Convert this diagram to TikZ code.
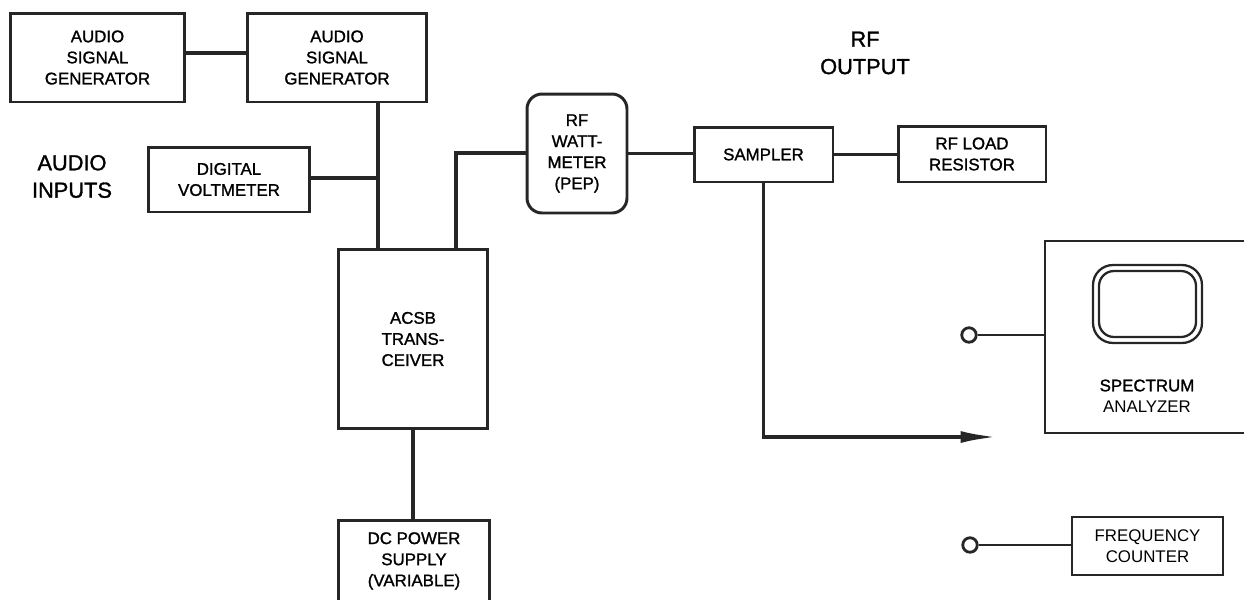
\documentclass[tikz,border=0pt]{standalone}
\usepackage{fontspec}
\setmainfont{Liberation Sans}[BoldFont={Liberation Sans},BoldFeatures={FakeBold=1.3}]
\usetikzlibrary{arrows.meta}
\begin{document}
\begin{tikzpicture}[x=0.02cm,y=-0.02cm,
  box/.style={draw=black!85, line width=1.7pt, inner sep=0pt, align=center,
    font=\fontsize{9.6}{12}\selectfont\bfseries},
  thinbox/.style={draw=black!85, line width=1.3pt, inner sep=0pt, align=center},
  lbl/.style={inner sep=0pt, align=center, font=\fontsize{12.4}{15.6}\selectfont\bfseries},
  conn/.style={draw=black!85, line width=2.2pt},
  thinconn/.style={draw=black!85, line width=1.1pt},
  port/.style={circle, draw=black!85, line width=1.6pt, minimum size=0.29cm, inner sep=0pt}]
\useasboundingbox (0,0) rectangle (1244,599);

% boxes
\node[box, minimum width=3.5cm, minimum height=1.78cm] (asg1) at (97.5,57.5) {AUDIO\\SIGNAL\\GENERATOR};
\node[box, minimum width=3.6cm, minimum height=1.78cm] (asg2) at (337,57.5) {AUDIO\\SIGNAL\\GENERATOR};
\node[box, minimum width=3.24cm, minimum height=1.3cm] (dvm) at (229,179.5) {DIGITAL\\VOLTMETER};
\node[box, minimum width=3cm, minimum height=3.6cm] (trx) at (413,339) {ACSB\\TRANS-\\CEIVER};
\node[box, minimum width=3.04cm, minimum height=1.64cm] (dc) at (414,561) {DC POWER\\SUPPLY\\(VARIABLE)};
\node[box, rounded corners=0.3cm, minimum width=2cm, minimum height=2.38cm] (watt) at (577,153.5) {RF\\WATT-\\METER\\(PEP)};
\node[box, minimum width=2.78cm, minimum height=1.1cm] (samp) at (763.5,154.5) {SAMPLER};
\node[box, minimum width=2.96cm, minimum height=1.12cm] (load) at (972,154) {RF LOAD\\RESISTOR};
\node[thinbox, minimum width=4.3cm, minimum height=3.84cm] (sa) at (1152.5,337) {};
\node[thinbox, rounded corners=0.4cm, minimum width=2.18cm, minimum height=1.56cm] (scr) at (1147.5,304) {};
\node[thinbox, rounded corners=0.3cm, minimum width=1.94cm, minimum height=1.32cm] (scri) at (1147.5,304) {};
\node[inner sep=0pt, align=center, font=\fontsize{9.6}{12}\selectfont] (satxt) at (1147,396) {{\bfseries SPECTRUM}\\ANALYZER};
\node[box, line width=1.4pt, font=\fontsize{9.6}{12}\selectfont, minimum width=3.02cm, minimum height=1.16cm] (fc) at (1147.5,546) {FREQUENCY\\COUNTER};

% labels
\node[lbl] (ain) at (72,176.5) {AUDIO\\INPUTS};
\node[lbl] (rfout) at (865,53) {RF\\OUTPUT};

% ports
\node[port] (c1) at (969,335) {};
\node[port] (c2) at (970,545) {};

% connectors
\coordinate (j1) at (378,178);
\coordinate (j2) at (456,153);
\coordinate (tip) at (998,437);
\draw[conn] ([yshift=0.09cm]asg1.east) -- ([yshift=0.09cm]asg2.west);
\draw[conn] (asg2.south -| j1) -- (trx.north -| j1);
\draw[conn] (dvm.east |- j1) -- (j1);
\draw[conn] (trx.north -| j2) -- (j2) -- (j2 -| watt.west);
\draw[conn] (watt.east) -- (watt.east -| samp.west);
\draw[conn] (samp.east) -- (samp.east -| load.west);
\draw[conn] (trx.south) -- (trx.south |- dc.north);
\draw[conn, -{Latex[length=0.75cm,width=0.24cm]}] (samp.south) |- (tip);
\draw[thinconn] (c1.east) -- (c1.east -| sa.west);
\draw[thinconn] (c2.east) -- (c2.east -| fc.west);
\end{tikzpicture}
\end{document}
